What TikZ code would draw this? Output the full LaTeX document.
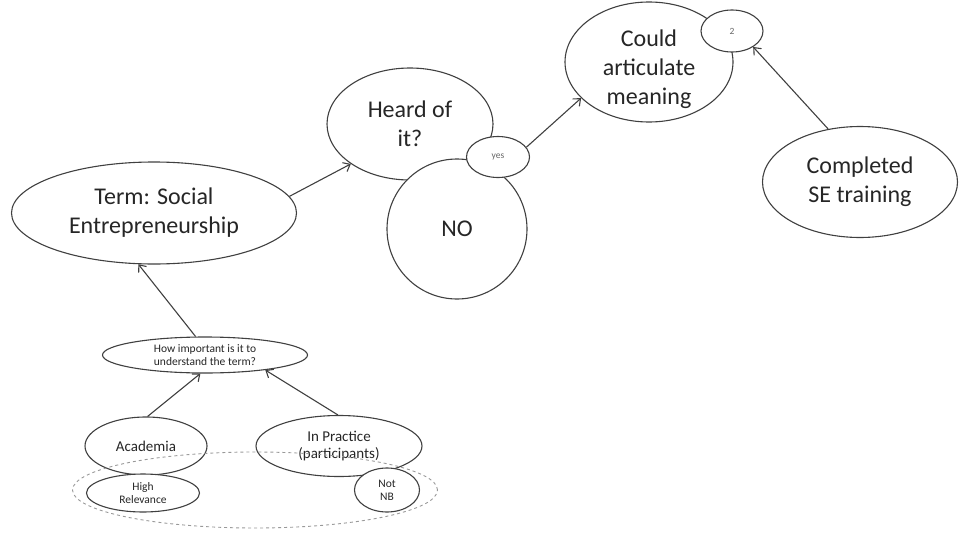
\documentclass[tikz,border=0pt]{standalone}
\usepackage{fontspec}
\setmainfont{Carlito}
\usetikzlibrary{arrows.meta,shapes.geometric}

\begin{document}
\begin{tikzpicture}[
  x=1pt,y=-1pt,
  bubble/.style={draw=black!75,ellipse,line width=1.1pt,fill=white,align=center,inner sep=0pt,text=black!85},
  big/.style={font=\fontsize{24}{29}\selectfont},
  mid/.style={font=\fontsize{15}{17}\selectfont},
  small/.style={font=\fontsize{11.5}{13}\selectfont},
  tag/.style={font=\fontsize{9.5}{11}\selectfont,text=black!60},
  arr/.style={-{Straight Barb[length=6pt,width=10pt]},line width=1.1pt,black!75},
  group/.style={draw=black!40,dashed,ellipse,line width=0.9pt}
]
\useasboundingbox (0,0) rectangle (961,538);

% awareness chain along the top
\node[bubble,big,minimum width=285pt,minimum height=102pt] (term) at (154,213) {Term: Social\\Entrepreneurship};
\node[bubble,big,minimum width=166pt,minimum height=112pt] (heard) at (410,124) {Heard of\\it?};
\node[bubble,big,circle,minimum size=140pt] (no) at (457,229) {NO};
\node[bubble,tag,minimum width=63pt,minimum height=41pt] (yes) at (498,157) {yes};
\node[bubble,big,inner ysep=-8pt,minimum width=168pt,minimum height=120pt] (meaning) at (649,62) {\rule{0pt}{32pt}Could\\articulate\\meaning};
\node[bubble,tag,minimum width=62pt,minimum height=42pt] (two) at (732,31) {2};
\node[bubble,big,minimum width=195pt,minimum height=111pt] (training) at (860,182) {Completed\\SE training};

% relevance question and the two groups
\node[bubble,small,inner ysep=-3pt,minimum width=205pt,minimum height=36pt] (how) at (205,355) {How important is it to\\understand the term?};
\node[bubble,mid,minimum width=122pt,minimum height=58pt] (academia) at (146,446) {Academia};
\node[bubble,small,inner ysep=-3pt,minimum width=113pt,minimum height=38pt] (high) at (143,493) {High\\Relevance};
\node[bubble,mid,minimum width=166pt,minimum height=61pt] (practice) at (339,446) {In Practice\\(participants)};
\node[bubble,small,inner ysep=-3pt,minimum width=65pt,minimum height=44pt] (notnb) at (387,490) {Not\\NB};
\node[group,minimum width=365pt,minimum height=76pt] (panel) at (255,490) {};

\draw[arr] (term.7) -- (heard.214);
\draw[arr] (yes.19) -- (meaning.208);
\draw[arr] (training.121) -- (two.-37);
\draw[arr] (how.117) -- (term.-107);
\draw[arr] (academia.87) -- (how.-104);
\draw[arr] (practice.92) -- (how.-14);
\end{tikzpicture}
\end{document}
